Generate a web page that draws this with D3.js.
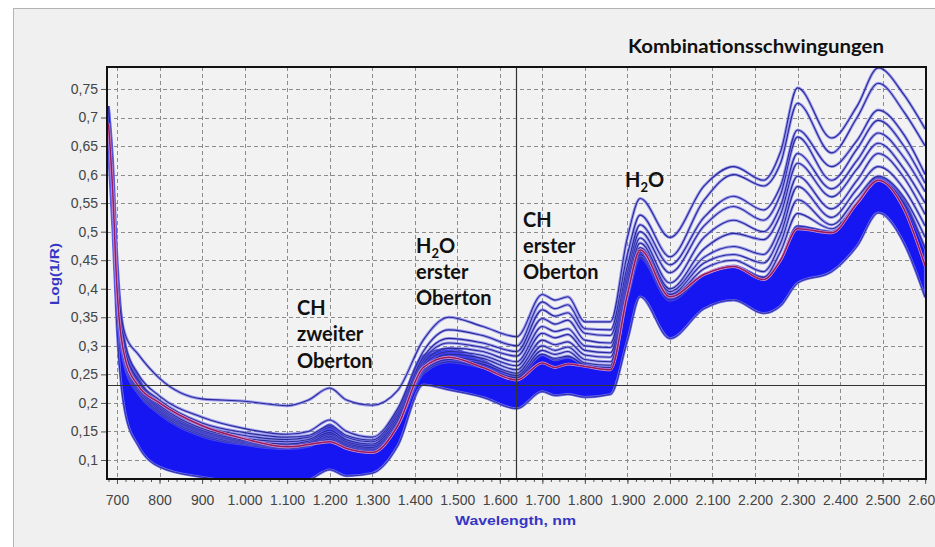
<!DOCTYPE html>
<html>
<head>
<meta charset="utf-8">
<title>NIR Spektren</title>
<script src="https://cdnjs.cloudflare.com/ajax/libs/d3/7.8.5/d3.min.js"></script>
<style>
  body, html { margin: 0; padding: 0; background: #fff; }
  svg { display: block; }
  .tick text { font-family: "Liberation Sans", Arial, sans-serif; font-size: 14px; fill: #444; }
  .anno { font-family: Lato, "Open Sans", sans-serif; font-weight: 700; font-size: 20px; fill: #111; }
  .axis-title { font-family: "Liberation Sans", Arial, sans-serif; font-weight: bold; font-size: 12px; fill: #3636c4; }
</style>
</head>
<body>
<div id="chart"></div>
<script>
var wl = [680, 690, 700, 720, 750, 800, 900, 1000, 1100, 1150, 1200, 1240, 1300, 1360, 1420, 1480, 1560, 1640,
          1700, 1730, 1760, 1800, 1860, 1900, 1930, 2000, 2080, 2150, 2220, 2260, 2300, 2380, 2440, 2490, 2550, 2600];

// dense bundle of spectra: lower and upper edge
var bandLow  = [0.64, 0.50, 0.33, 0.18, 0.125, 0.088, 0.070, 0.062, 0.060, 0.065, 0.083, 0.072, 0.077, 0.125, 0.232, 0.223, 0.210, 0.190,
                0.220, 0.213, 0.215, 0.210, 0.215, 0.310, 0.386, 0.313, 0.365, 0.380, 0.357, 0.370, 0.410, 0.430, 0.475, 0.533, 0.480, 0.385];
var bandHigh = [0.72, 0.626, 0.46, 0.30, 0.245, 0.192, 0.150, 0.130, 0.122, 0.128, 0.162, 0.135, 0.125, 0.185, 0.283, 0.295, 0.275, 0.246,
                0.285, 0.275, 0.280, 0.267, 0.260, 0.420, 0.468, 0.390, 0.425, 0.440, 0.420, 0.450, 0.510, 0.500, 0.550, 0.595, 0.555, 0.470];

// mean spectrum (red)
var meanSpec = [0.69, 0.57, 0.40, 0.275, 0.23, 0.20, 0.16, 0.137, 0.123, 0.127, 0.132, 0.120, 0.113, 0.160, 0.262, 0.280, 0.262, 0.240,
                0.270, 0.262, 0.268, 0.264, 0.258, 0.390, 0.468, 0.386, 0.425, 0.439, 0.416, 0.450, 0.505, 0.498, 0.550, 0.590, 0.540, 0.440];

// single spectra above the bundle
var spec1  = [0.72, 0.60, 0.42, 0.318, 0.285, 0.243, 0.207, 0.203, 0.195, 0.205, 0.226, 0.205, 0.196, 0.222, 0.310, 0.350, 0.334, 0.316,
              0.390, 0.380, 0.386, 0.342, 0.342, 0.490, 0.558, 0.490, 0.580, 0.614, 0.590, 0.640, 0.752, 0.664, 0.720, 0.787, 0.740, 0.680];
var spec2  = [0.71, 0.58, 0.42, 0.30, 0.25, 0.212, 0.175, 0.155, 0.145, 0.150, 0.170, 0.150, 0.140, 0.190, 0.290, 0.328, 0.318, 0.300,
              0.377, 0.365, 0.372, 0.330, 0.328, 0.460, 0.529, 0.456, 0.555, 0.600, 0.580, 0.620, 0.725, 0.638, 0.700, 0.760, 0.710, 0.650];
var spec3  = [0.70, 0.57, 0.41, 0.29, 0.24, 0.205, 0.165, 0.148, 0.140, 0.143, 0.160, 0.143, 0.135, 0.185, 0.280, 0.313, 0.305, 0.290,
              0.363, 0.352, 0.358, 0.322, 0.318, 0.440, 0.512, 0.442, 0.525, 0.562, 0.538, 0.580, 0.678, 0.614, 0.660, 0.713, 0.670, 0.600];
var spec4  = [0.69, 0.56, 0.405, 0.285, 0.237, 0.200, 0.160, 0.143, 0.136, 0.140, 0.157, 0.140, 0.132, 0.180, 0.275, 0.305, 0.297, 0.282,
              0.348, 0.338, 0.345, 0.310, 0.305, 0.430, 0.500, 0.428, 0.510, 0.544, 0.520, 0.565, 0.666, 0.590, 0.645, 0.695, 0.650, 0.585];
var spec5  = [0.69, 0.56, 0.40, 0.28, 0.233, 0.196, 0.155, 0.138, 0.132, 0.136, 0.152, 0.135, 0.128, 0.175, 0.270, 0.296, 0.290, 0.272,
              0.334, 0.325, 0.330, 0.300, 0.297, 0.420, 0.489, 0.410, 0.490, 0.520, 0.500, 0.545, 0.637, 0.575, 0.625, 0.673, 0.630, 0.570];
var spec6  = [0.68, 0.55, 0.395, 0.276, 0.23, 0.193, 0.152, 0.135, 0.128, 0.133, 0.148, 0.132, 0.125, 0.170, 0.265, 0.290, 0.283, 0.265,
              0.322, 0.314, 0.320, 0.292, 0.288, 0.410, 0.480, 0.400, 0.470, 0.497, 0.486, 0.530, 0.620, 0.561, 0.610, 0.655, 0.610, 0.550];
var spec7  = [0.68, 0.55, 0.39, 0.272, 0.227, 0.190, 0.150, 0.133, 0.126, 0.130, 0.145, 0.130, 0.122, 0.168, 0.260, 0.285, 0.278, 0.258,
              0.310, 0.302, 0.307, 0.284, 0.280, 0.400, 0.472, 0.395, 0.455, 0.474, 0.460, 0.510, 0.597, 0.540, 0.590, 0.637, 0.595, 0.530];
var spec8  = [0.67, 0.54, 0.385, 0.268, 0.224, 0.187, 0.148, 0.131, 0.124, 0.128, 0.142, 0.127, 0.120, 0.166, 0.258, 0.280, 0.272, 0.252,
              0.300, 0.292, 0.298, 0.276, 0.272, 0.395, 0.465, 0.390, 0.445, 0.460, 0.445, 0.495, 0.579, 0.525, 0.575, 0.614, 0.575, 0.510];
var spec9  = [0.67, 0.54, 0.38, 0.264, 0.22, 0.184, 0.145, 0.129, 0.122, 0.126, 0.140, 0.124, 0.118, 0.163, 0.255, 0.276, 0.268, 0.248,
              0.292, 0.285, 0.290, 0.270, 0.266, 0.390, 0.460, 0.385, 0.435, 0.450, 0.430, 0.480, 0.556, 0.512, 0.560, 0.597, 0.560, 0.490];
var spec10 = [0.66, 0.53, 0.375, 0.26, 0.217, 0.181, 0.142, 0.127, 0.120, 0.124, 0.137, 0.122, 0.116, 0.160, 0.252, 0.272, 0.262, 0.244,
              0.285, 0.278, 0.282, 0.266, 0.262, 0.385, 0.455, 0.380, 0.425, 0.440, 0.420, 0.465, 0.532, 0.505, 0.550, 0.590, 0.550, 0.470];

var xTicks = [700, 800, 900, 1000, 1100, 1200, 1300, 1400, 1500, 1600, 1700, 1800, 1900, 2000, 2100, 2200, 2300, 2400, 2500, 2600];
var yTicks = [0.1, 0.15, 0.2, 0.25, 0.3, 0.35, 0.4, 0.45, 0.5, 0.55, 0.6, 0.65, 0.7, 0.75];

// cursor position
var cursorX = 1638, cursorY = 0.232;

var W = 935, H = 547;
var plot = {left: 107, top: 67, right: 926, bottom: 479};

var x = d3.scaleLinear().domain([676.5, 2602]).range([plot.left, plot.right]);
var y = d3.scaleLinear().domain([0.0667, 0.7885]).range([plot.bottom, plot.top]);

var de = d3.formatLocale({decimal: ",", thousands: ".", grouping: [3], currency: ["", " €"]});
var fmtX = de.format(",d"), fmtY = de.format(".2~f");

var svg = d3.select('#chart').append('svg').attr('width', W).attr('height', H);

// panel
svg.append('rect').attr('x', 13.5).attr('y', 8.5).attr('width', W).attr('height', H)
    .attr('fill', '#f0f0f0').attr('stroke', '#b4b4b4');
svg.append('rect').attr('x', plot.left).attr('y', plot.top)
    .attr('width', plot.right - plot.left).attr('height', plot.bottom - plot.top)
    .attr('fill', '#f2f2f2');

svg.append('clipPath').attr('id', 'clip').append('rect')
    .attr('x', plot.left).attr('y', plot.top)
    .attr('width', plot.right - plot.left).attr('height', plot.bottom - plot.top);

// dashed grid
var grid = svg.append('g').attr('stroke', '#8c8c8c').attr('stroke-dasharray', '4,3').attr('stroke-width', 1);
grid.selectAll('line.gx').data(xTicks).enter().append('line').attr('class', 'gx')
    .attr('x1', function (d) { return Math.round(x(d)) + 0.5; })
    .attr('x2', function (d) { return Math.round(x(d)) + 0.5; })
    .attr('y1', plot.top).attr('y2', plot.bottom);
grid.selectAll('line.gy').data(yTicks).enter().append('line').attr('class', 'gy')
    .attr('y1', function (d) { return Math.round(y(d)) + 0.5; })
    .attr('y2', function (d) { return Math.round(y(d)) + 0.5; })
    .attr('x1', plot.left).attr('x2', plot.right);

var curves = svg.append('g').attr('clip-path', 'url(#clip)');

var line = d3.line()
    .x(function (d, i) { return x(wl[i]); })
    .y(function (d) { return y(d); })
    .curve(d3.curveMonotoneX);

var band = d3.area()
    .x(function (d) { return x(d); })
    .y0(function (d, i) { return y(bandLow[i]); })
    .y1(function (d, i) { return y(bandHigh[i]); })
    .curve(d3.curveMonotoneX);

curves.append('path').datum(wl).attr('d', band)
    .attr('fill', '#1616f2').attr('stroke', '#6a6af0').attr('stroke-width', 2.5);
[bandLow, bandHigh].forEach(function (s) {
    curves.append('path').datum(s).attr('d', line)
        .attr('fill', 'none').attr('stroke', '#2e2e9a').attr('stroke-width', 1);
});

var singles = [spec10, spec9, spec8, spec7, spec6, spec5, spec4, spec3, spec2, spec1];
singles.forEach(function (s) {
    curves.append('path').datum(s).attr('d', line)
        .attr('fill', 'none').attr('stroke', '#6464f4').attr('stroke-width', 3).attr('stroke-opacity', 0.6);
    curves.append('path').datum(s).attr('d', line)
        .attr('fill', 'none').attr('stroke', '#2a2a94').attr('stroke-width', 1.1);
});

curves.append('path').datum(meanSpec).attr('d', line)
    .attr('fill', 'none').attr('stroke', '#d99ad0').attr('stroke-width', 2.8);
curves.append('path').datum(meanSpec).attr('d', line)
    .attr('fill', 'none').attr('stroke', '#961a5e').attr('stroke-width', 1.5);

// cursor cross
svg.append('line')
    .attr('x1', plot.left).attr('x2', plot.right)
    .attr('y1', Math.round(y(cursorY)) + 0.5).attr('y2', Math.round(y(cursorY)) + 0.5)
    .attr('stroke', '#333').attr('stroke-width', 1);
svg.append('line')
    .attr('x1', Math.round(x(cursorX)) + 0.5).attr('x2', Math.round(x(cursorX)) + 0.5)
    .attr('y1', plot.top).attr('y2', plot.bottom)
    .attr('stroke', '#333').attr('stroke-width', 1.2);

// axes
var xAxis = svg.append('g').attr('transform', 'translate(0,' + plot.bottom + ')')
    .call(d3.axisBottom(x).tickValues(xTicks).tickFormat(fmtX).tickSize(5).tickPadding(8));
var xMinor = svg.append('g').attr('transform', 'translate(0,' + plot.bottom + ')')
    .call(d3.axisBottom(x).tickValues(d3.range(680, 2601, 20)).tickFormat('').tickSize(3));
var yAxis = svg.append('g').attr('transform', 'translate(' + plot.left + ',0)')
    .call(d3.axisLeft(y).tickValues(yTicks).tickFormat(fmtY).tickSize(6).tickPadding(3));
[xAxis, xMinor, yAxis].forEach(function (g) {
    g.select('.domain').remove();
    g.selectAll('.tick line').attr('stroke', '#555');
});
xAxis.selectAll('.tick text').attr('dy', '0.9em');

// frame
svg.append('rect').attr('x', plot.left).attr('y', plot.top)
    .attr('width', plot.right - plot.left).attr('height', plot.bottom - plot.top)
    .attr('fill', 'none').attr('stroke', '#111').attr('stroke-width', 2);

// axis titles
svg.append('text').attr('class', 'axis-title')
    .attr('transform', 'translate(59,274) rotate(-90)')
    .attr('text-anchor', 'middle')
    .attr('textLength', 62).attr('lengthAdjust', 'spacingAndGlyphs')
    .text('Log(1/R)');
svg.append('text').attr('class', 'axis-title')
    .attr('x', 455).attr('y', 525)
    .attr('textLength', 121).attr('lengthAdjust', 'spacingAndGlyphs')
    .text('Wavelength, nm');

// title
svg.append('text').attr('class', 'anno')
    .attr('x', 628).attr('y', 53).style('font-size', '18px')
    .attr('textLength', 256).attr('lengthAdjust', 'spacingAndGlyphs')
    .text('Kombinationsschwingungen');

// band annotations
function label(x0, y0, lines) {
    var t = svg.append('text').attr('class', 'anno');
    lines.forEach(function (l, i) {
        if (l === 'H2O') {
            t.append('tspan').attr('x', x0).attr('y', y0 + i * 26.3).text('H');
            t.append('tspan').attr('dy', 5).style('font-size', '13px').text('2');
            t.append('tspan').attr('dy', -5).text('O');
        } else {
            t.append('tspan').attr('x', x0).attr('y', y0 + i * 26.3).text(l);
        }
    });
}
label(297, 315, ['CH', 'zweiter', 'Oberton']);
label(416, 252.5, ['H2O', 'erster', 'Oberton']);
label(523, 226.5, ['CH', 'erster', 'Oberton']);
label(625, 186.5, ['H2O']);
</script>
</body>
</html>
